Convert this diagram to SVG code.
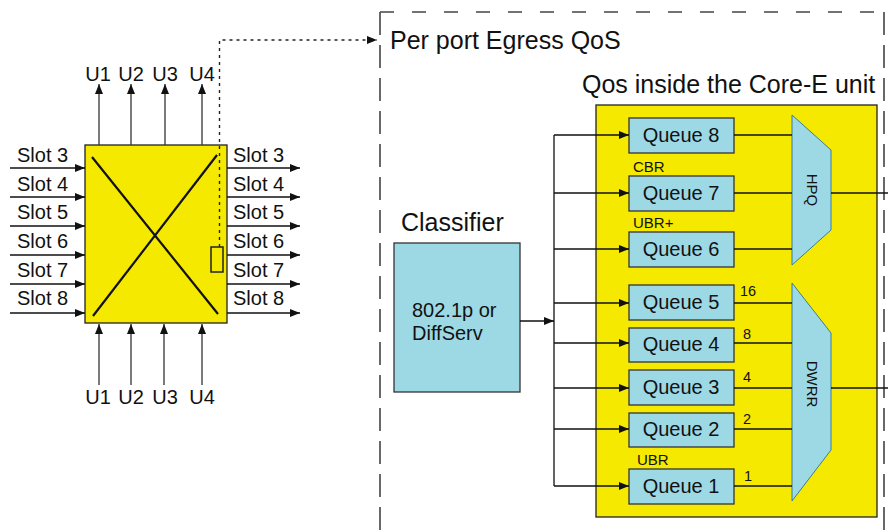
<svg xmlns="http://www.w3.org/2000/svg" width="888" height="531" viewBox="0 0 888 531">
<style>
text{font-family:"Liberation Sans",Arial,sans-serif;fill:#111}
.t20{font-size:20px}
.t25{font-size:25px}
.t15{font-size:15px}
.t14{font-size:14.5px}
.ln{stroke:#111;stroke-width:1.3;fill:none}
.ug{stroke:#333;stroke-width:1.3;fill:none}
.q{fill:#9dd8e5;stroke:#333;stroke-width:1.3}
.tr{fill:#9dd8e5;stroke:#3b7f8c;stroke-width:1}
.dh{stroke:#444;stroke-width:1.6;stroke-dasharray:14,18}
.dv{stroke:#444;stroke-width:1.6;stroke-dasharray:23,10}
</style>
<defs>
<marker id="ah" viewBox="0 0 10 10" refX="10" refY="5" markerWidth="10" markerHeight="10" markerUnits="userSpaceOnUse" orient="auto">
<path d="M0,1 L10,5 L0,9 Z" fill="#111"/>
</marker>
</defs>
<rect width="888" height="531" fill="#fff"/>

<g id="egress-frame">
<line class="dh" x1="380" y1="12" x2="884" y2="12"/>
<line class="dv" x1="380" y1="12" x2="380" y2="531"/>
<line class="dv" x1="884" y1="12" x2="884" y2="531"/>
<text class="t25" x="390" y="49">Per port Egress QoS</text>
</g>

<g id="core-e">
<rect x="596" y="105" width="281" height="412" fill="#f5e900" stroke="#222" stroke-width="1.3"/>
<text class="t25" x="582" y="93">Qos inside the Core-E unit</text>
</g>

<g id="switch">
<rect x="85" y="145" width="142" height="178" fill="#f5e900" stroke="#222" stroke-width="1.3"/>
<line x1="92" y1="157" x2="218" y2="314" stroke="#111" stroke-width="2.2"/>
<line x1="217" y1="155" x2="93" y2="316" stroke="#111" stroke-width="2.2"/>
<rect x="211" y="247" width="12" height="25" fill="none" stroke="#222" stroke-width="1.5"/>
</g>

<g id="slot-labels" class="t20">
<text x="17" y="162">Slot 3</text>
<text x="17" y="191">Slot 4</text>
<text x="17" y="219">Slot 5</text>
<text x="17" y="248">Slot 6</text>
<text x="17" y="277">Slot 7</text>
<text x="17" y="305">Slot 8</text>
<text x="233" y="162">Slot 3</text>
<text x="233" y="191">Slot 4</text>
<text x="233" y="219">Slot 5</text>
<text x="233" y="248">Slot 6</text>
<text x="233" y="277">Slot 7</text>
<text x="233" y="305">Slot 8</text>
</g>

<g id="u-labels" class="t20" text-anchor="middle">
<text x="98" y="81">U1</text>
<text x="131" y="81">U2</text>
<text x="165" y="81">U3</text>
<text x="202" y="81">U4</text>
<text x="98" y="404">U1</text>
<text x="131" y="404">U2</text>
<text x="165" y="404">U3</text>
<text x="202" y="404">U4</text>
</g>

<g id="classifier">
<text class="t25" x="401" y="231">Classifier</text>
<rect x="394" y="243" width="126" height="149" fill="#9dd8e5" stroke="#333" stroke-width="1.3"/>
<text class="t20" x="412" y="317">802.1p or</text>
<text class="t20" x="412" y="340">DiffServ</text>
</g>

<g id="queue-8"><rect class="q" x="629" y="118" width="105" height="35"/><text class="t20" x="681" y="142" text-anchor="middle">Queue 8</text></g>
<g id="queue-7"><rect class="q" x="629" y="176" width="105" height="35"/><text class="t20" x="681" y="200" text-anchor="middle">Queue 7</text><text class="t15" x="633" y="172">CBR</text></g>
<g id="queue-6"><rect class="q" x="629" y="232" width="105" height="35"/><text class="t20" x="681" y="256" text-anchor="middle">Queue 6</text><text class="t15" x="633" y="228">UBR+</text></g>
<g id="queue-5"><rect class="q" x="629" y="285" width="105" height="35"/><text class="t20" x="681" y="309" text-anchor="middle">Queue 5</text></g>
<g id="queue-4"><rect class="q" x="629" y="328" width="105" height="34"/><text class="t20" x="681" y="351" text-anchor="middle">Queue 4</text></g>
<g id="queue-3"><rect class="q" x="629" y="370" width="105" height="35"/><text class="t20" x="681" y="394" text-anchor="middle">Queue 3</text></g>
<g id="queue-2"><rect class="q" x="629" y="413" width="105" height="34"/><text class="t20" x="681" y="436" text-anchor="middle">Queue 2</text></g>
<g id="queue-1"><rect class="q" x="629" y="469" width="105" height="35"/><text class="t20" x="681" y="493" text-anchor="middle">Queue 1</text><text class="t15" x="637" y="465">UBR</text></g>

<g id="hpq">
<polygon class="tr" points="792,115 831,150 831,230 792,265"/>
<text class="t15" transform="translate(807,190) rotate(90)" text-anchor="middle">HPQ</text>
</g>
<g id="dwrr">
<polygon class="tr" points="792,283 831,333 831,450 792,501"/>
<text class="t15" transform="translate(807,384) rotate(90)" text-anchor="middle">DWRR</text>
</g>

<g id="weights" class="t14">
<text x="740" y="296">16</text>
<text x="743" y="339">8</text>
<text x="743" y="382">4</text>
<text x="743" y="424">2</text>
<text x="744" y="481">1</text>
</g>

<g id="connectors">
<line class="ln" x1="10" y1="168" x2="85" y2="168" marker-end="url(#ah)"/>
<line class="ln" x1="10" y1="197" x2="85" y2="197" marker-end="url(#ah)"/>
<line class="ln" x1="10" y1="226" x2="85" y2="226" marker-end="url(#ah)"/>
<line class="ln" x1="10" y1="255" x2="85" y2="255" marker-end="url(#ah)"/>
<line class="ln" x1="10" y1="284" x2="85" y2="284" marker-end="url(#ah)"/>
<line class="ln" x1="10" y1="313" x2="85" y2="313" marker-end="url(#ah)"/>
<line class="ln" x1="227" y1="168" x2="300" y2="168" marker-end="url(#ah)"/>
<line class="ln" x1="227" y1="197" x2="300" y2="197" marker-end="url(#ah)"/>
<line class="ln" x1="227" y1="226" x2="300" y2="226" marker-end="url(#ah)"/>
<line class="ln" x1="227" y1="255" x2="300" y2="255" marker-end="url(#ah)"/>
<line class="ln" x1="227" y1="284" x2="300" y2="284" marker-end="url(#ah)"/>
<line class="ln" x1="227" y1="313" x2="300" y2="313" marker-end="url(#ah)"/>
<line class="ug" x1="99" y1="145" x2="99" y2="84" marker-end="url(#ah)"/>
<line class="ug" x1="131" y1="145" x2="131" y2="84" marker-end="url(#ah)"/>
<line class="ug" x1="165" y1="145" x2="165" y2="84" marker-end="url(#ah)"/>
<line class="ug" x1="202" y1="145" x2="202" y2="84" marker-end="url(#ah)"/>
<line class="ug" x1="99" y1="385" x2="99" y2="324" marker-end="url(#ah)"/>
<line class="ug" x1="131" y1="385" x2="131" y2="324" marker-end="url(#ah)"/>
<line class="ug" x1="164" y1="385" x2="164" y2="324" marker-end="url(#ah)"/>
<line class="ug" x1="202" y1="385" x2="202" y2="324" marker-end="url(#ah)"/>
<polyline points="219.5,247 219.5,40 377,40" fill="none" stroke="#222" stroke-width="1.4" stroke-dasharray="3,4" marker-end="url(#ah)"/>
<line class="ln" x1="520" y1="321" x2="554" y2="321" marker-end="url(#ah)"/>
<line class="ln" x1="554" y1="135" x2="554" y2="486"/>
<line class="ln" x1="554" y1="135" x2="629" y2="135" marker-end="url(#ah)"/>
<line class="ln" x1="554" y1="193" x2="629" y2="193" marker-end="url(#ah)"/>
<line class="ln" x1="554" y1="249" x2="629" y2="249" marker-end="url(#ah)"/>
<line class="ln" x1="554" y1="303" x2="629" y2="303" marker-end="url(#ah)"/>
<line class="ln" x1="554" y1="343" x2="629" y2="343" marker-end="url(#ah)"/>
<line class="ln" x1="554" y1="388" x2="629" y2="388" marker-end="url(#ah)"/>
<line class="ln" x1="554" y1="429" x2="629" y2="429" marker-end="url(#ah)"/>
<line class="ln" x1="554" y1="486" x2="629" y2="486" marker-end="url(#ah)"/>
<line class="ln" x1="734" y1="135" x2="792" y2="135"/>
<line class="ln" x1="734" y1="193" x2="792" y2="193"/>
<line class="ln" x1="734" y1="249" x2="792" y2="249"/>
<line class="ln" x1="734" y1="303" x2="792" y2="303"/>
<line class="ln" x1="734" y1="343" x2="792" y2="343"/>
<line class="ln" x1="734" y1="388" x2="792" y2="388"/>
<line class="ln" x1="734" y1="429" x2="792" y2="429"/>
<line class="ln" x1="734" y1="486" x2="792" y2="486"/>
<line class="ln" x1="831" y1="193" x2="888" y2="193"/>
<line class="ln" x1="831" y1="388" x2="888" y2="388"/>
</g>
</svg>
